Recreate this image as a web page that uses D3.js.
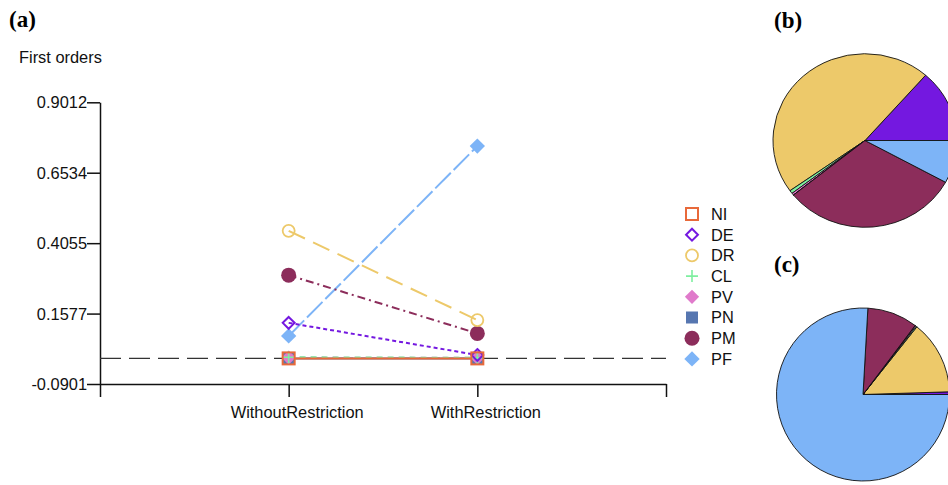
<!DOCTYPE html>
<html>
<head>
<meta charset="utf-8">
<script src="https://cdn.jsdelivr.net/npm/d3@7"></script>
<style>
  html, body { margin: 0; padding: 0; background: #fff; }
  svg { display: block; }
  text { font-family: "Liberation Sans", Arial, Helvetica, sans-serif; }
</style>
</head>
<body>
<svg id="chart" width="948" height="485"></svg>
<script>
// Factors and scenarios
const factors = ["NI", "DE", "DR", "CL", "PV", "PN", "PM", "PF"];
const scenarios = ["WithoutRestriction", "WithRestriction"];

// First-order sensitivity indices per factor, one array per scenario
const withoutRestriction = [0.000, 0.125, 0.449, 0.004, 0.003, 0.000, 0.293, 0.079];
const withRestriction    = [0.000, 0.012, 0.135, 0.002, 0.002, 0.000, 0.088, 0.747];

// Shares for the two pies: (b) without restriction, (c) with restriction
const pieSharesWithout = [0.000, 0.1356, 0.463, 0.006, 0.004, 0.000, 0.312, 0.080];
const pieSharesWith    = [0.000, 0.005, 0.138, 0.002, 0.002, 0.000, 0.094, 0.759];

// Y axis tick values and labels
const yTicks = [-0.0901, 0.1577, 0.4055, 0.6534, 0.9012];
const yTickLabels = ["-0.0901", "0.1577", "0.4055", "0.6534", "0.9012"];

// X axis: four evenly spaced ticks, the scenarios sit on the inner two
const xTicks = [0, 1, 2, 3];
const xTickLabels = ["", "WithoutRestriction", "WithRestriction", ""];

// Per-factor styling
const colors = {
  NI: "#E8693A", DE: "#7418E0", DR: "#EDC96A", CL: "#7EEFA0",
  PV: "#E07ACB", PN: "#5676B0", PM: "#8C2D5B", PF: "#7DB4F7"
};
const dashes = {
  NI: null, DE: "4,3", DR: "18,9", CL: "6,5", PV: "5,6",
  PN: null, PM: "8,4,2,4", PF: "22,4"
};

const svg = d3.select("#chart");

const x = d3.scaleLinear().domain([0, 3]).range([100, 666]);
const y = d3.scaleLinear().domain([-0.0901, 0.9012]).range([384, 102.3]);

// Panel labels
svg.append("text").attr("x", 9).attr("y", 27)
  .style("font-family", "'Liberation Serif', 'Times New Roman', serif")
  .style("font-weight", "bold").style("font-size", "23px").text("(a)");
svg.append("text").attr("x", 774).attr("y", 28)
  .style("font-family", "'Liberation Serif', 'Times New Roman', serif")
  .style("font-weight", "bold").style("font-size", "23px").text("(b)");
svg.append("text").attr("x", 774).attr("y", 272)
  .style("font-family", "'Liberation Serif', 'Times New Roman', serif")
  .style("font-weight", "bold").style("font-size", "23px").text("(c)");

// Y axis title
svg.append("text").attr("x", 19).attr("y", 63)
  .style("font-size", "16.4px").attr("fill", "#111").text("First orders");

// Axes
const yAxis = svg.append("g").attr("transform", "translate(100,0)")
  .call(d3.axisLeft(y).tickValues(yTicks).tickSize(13).tickSizeOuter(0)
    .tickFormat((d, i) => yTickLabels[i]));
const xAxis = svg.append("g").attr("transform", "translate(0,384)")
  .call(d3.axisBottom(x).tickValues(xTicks).tickSize(13).tickSizeOuter(0)
    .tickFormat((d, i) => xTickLabels[i]));

[yAxis, xAxis].forEach(g => {
  g.select(".domain").attr("stroke", "#111").attr("stroke-width", 1.5);
  g.selectAll(".tick line").attr("stroke", "#111").attr("stroke-width", 1.5);
  g.selectAll(".tick text").attr("fill", "#111")
    .style("font-family", "'Liberation Sans', Arial, sans-serif")
    .style("font-size", "16.4px");
});
yAxis.selectAll(".tick text").attr("x", -13).attr("dy", "0.34em");
xAxis.selectAll(".tick text").attr("y", 22).attr("dx", 8).attr("dy", "0.71em");

// Dashed reference line at zero
svg.append("line")
  .attr("x1", x(0)).attr("x2", x(3))
  .attr("y1", y(0)).attr("y2", y(0))
  .attr("stroke", "#333").attr("stroke-width", 1.4)
  .attr("stroke-dasharray", "21,8");

// Series data
const series = factors.map((f, i) => ({
  key: f,
  values: [
    { pos: 1, v: withoutRestriction[i] },
    { pos: 2, v: withRestriction[i] }
  ]
}));
const drawOrder = series.slice().reverse();

const line = d3.line().x(d => x(d.pos)).y(d => y(d.v));

svg.append("g").selectAll("path").data(drawOrder).join("path")
  .attr("d", d => line(d.values))
  .attr("fill", "none")
  .attr("stroke", d => colors[d.key])
  .attr("stroke-width", 2)
  .attr("stroke-dasharray", d => dashes[d.key]);

// Marker shapes
function drawMarker(g, key, cx, cy) {
  const c = colors[key];
  switch (key) {
    case "NI":
      g.append("rect").attr("x", cx - 6).attr("y", cy - 6).attr("width", 12).attr("height", 12)
        .attr("fill", "none").attr("stroke", c).attr("stroke-width", 2);
      break;
    case "DE":
      g.append("path").attr("d", d3.symbol(d3.symbolDiamond2, 90)())
        .attr("transform", `translate(${cx},${cy})`)
        .attr("fill", "none").attr("stroke", c).attr("stroke-width", 2);
      break;
    case "DR":
      g.append("circle").attr("cx", cx).attr("cy", cy).attr("r", 6)
        .attr("fill", "none").attr("stroke", c).attr("stroke-width", 1.8);
      break;
    case "CL":
      g.append("path").attr("d", `M${cx - 6},${cy}H${cx + 6}M${cx},${cy - 6}V${cy + 6}`)
        .attr("stroke", c).attr("stroke-width", 1.6);
      break;
    case "PV":
      g.append("path").attr("d", d3.symbol(d3.symbolDiamond2, 130)())
        .attr("transform", `translate(${cx},${cy})`).attr("fill", c);
      break;
    case "PN":
      g.append("rect").attr("x", cx - 6).attr("y", cy - 6).attr("width", 12).attr("height", 12)
        .attr("fill", c);
      break;
    case "PM":
      g.append("circle").attr("cx", cx).attr("cy", cy).attr("r", 7.5).attr("fill", c);
      break;
    case "PF":
      g.append("path").attr("d", d3.symbol(d3.symbolDiamond2, 150)())
        .attr("transform", `translate(${cx},${cy})`).attr("fill", c);
      break;
  }
}

const pts = svg.append("g");
drawOrder.forEach(s => {
  s.values.forEach(d => drawMarker(pts, s.key, x(d.pos), y(d.v)));
});

// Legend
const legend = svg.append("g");
factors.forEach((f, i) => {
  const ly = 214 + i * 20.7;
  drawMarker(legend, f, 692, ly);
  legend.append("text").attr("x", 711).attr("y", ly).attr("dy", "0.36em")
    .attr("fill", "#111").style("font-size", "16.4px").text(f);
});

// Pies, counter-clockwise from 3 o'clock
const pie = d3.pie().sort(null).value(d => d.v)
  .startAngle(Math.PI / 2).endAngle(Math.PI / 2 - 2 * Math.PI);

function drawPie(shares, cx, cy, r, sx) {
  const g = svg.append("g").attr("transform", `translate(${cx},${cy}) scale(${sx},1)`);
  const arc = d3.arc().innerRadius(0).outerRadius(r);
  const data = factors.map((f, i) => ({ key: f, v: shares[i] }));
  g.selectAll("path").data(pie(data)).join("path")
    .attr("d", arc)
    .attr("fill", d => colors[d.data.key])
    .attr("stroke", "#111")
    .attr("stroke-width", 0.9)
    .attr("vector-effect", "non-scaling-stroke");
}

drawPie(pieSharesWithout, 865, 140.5, 86.8, 92 / 86.8);
drawPie(pieSharesWith, 863, 394.5, 86.5, 1);
</script>
</body>
</html>
